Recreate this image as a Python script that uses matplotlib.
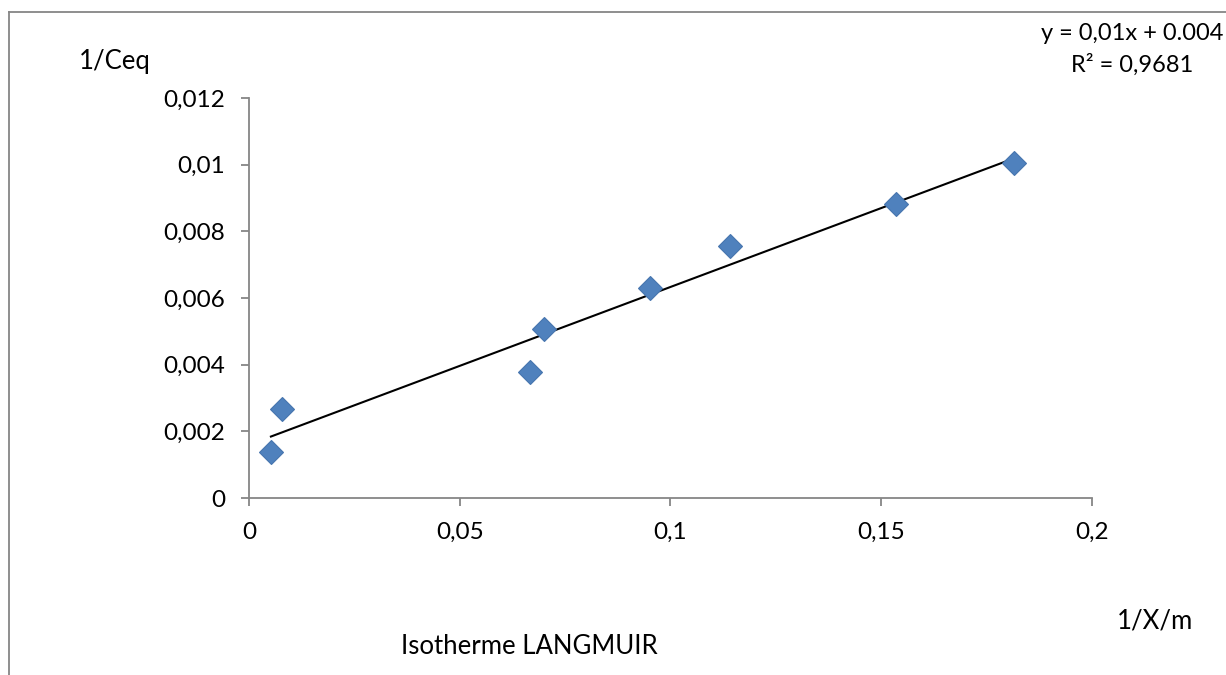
import numpy as np
import matplotlib
matplotlib.use("Agg")
import matplotlib.pyplot as plt
from matplotlib.ticker import FuncFormatter
from matplotlib.lines import Line2D

# Langmuir isotherm points: 1/X/m against 1/Ceq
inv_xm = [0.0052, 0.0078, 0.0667, 0.0700, 0.0951, 0.1141, 0.1535, 0.1815]
inv_ceq = [0.00138, 0.00267, 0.00378, 0.00507, 0.00630, 0.00756, 0.00882, 0.01005]

x_ticks = [0, 0.05, 0.1, 0.15, 0.2]
y_ticks = [0, 0.002, 0.004, 0.006, 0.008, 0.01, 0.012]

eq_line1 = "y = 0,01x + 0.004"
eq_line2 = "R² = 0,9681"

plt.rcParams['font.family'] = ['Lato', 'DejaVu Sans']

fig = plt.figure(figsize=(12.26, 6.75), dpi=100)
ax = fig.add_axes([0.2031, 0.2622, 0.6876, 0.5926])

ax.plot(inv_xm, inv_ceq, linestyle='none', marker='D', markersize=12,
        color='#4F81BD', markeredgecolor='#4675AE', markeredgewidth=0.8, zorder=3)

# linear trendline over the data range
slope, intercept = np.polyfit(inv_xm, inv_ceq, 1)
xs = np.array([min(inv_xm), max(inv_xm)])
ax.plot(xs, slope * xs + intercept, color='black', linewidth=1.5, zorder=2)

ax.set_xlim(0, 0.2)
ax.set_ylim(0, 0.012)
ax.set_xticks(x_ticks)
ax.set_yticks(y_ticks)
comma = FuncFormatter(lambda v, p: f"{v:g}".replace('.', ','))
ax.xaxis.set_major_formatter(comma)
ax.yaxis.set_major_formatter(comma)

for s in ['top', 'right']:
    ax.spines[s].set_visible(False)
for s in ['left', 'bottom']:
    ax.spines[s].set_color('#868686')
    ax.spines[s].set_linewidth(1.3)
ax.tick_params(direction='out', length=6, width=1.3, color='#868686',
               labelsize=17.5, labelcolor='black')
ax.tick_params(axis='x', pad=11)
ax.tick_params(axis='y', pad=11)

fig.text(115 / 1226, 1 - 62 / 675, "1/Ceq", fontsize=18.5, ha='center', va='center')
fig.text(1155 / 1226, 1 - 621 / 675, "1/X/m", fontsize=18.5, ha='center', va='center')
fig.text(529 / 1226, 1 - 647 / 675, "Isotherme LANGMUIR", fontsize=18.5,
         ha='center', va='center')
fig.text(1132 / 1226, 1 - 33 / 675, eq_line1, fontsize=17, ha='center', va='center')
fig.text(1132 / 1226, 1 - 65 / 675, eq_line2, fontsize=17, ha='center', va='center')

# outer chart frame (cropped on the right and bottom)
fig.add_artist(Line2D([9 / 1226, 1.0], [1 - 12 / 675, 1 - 12 / 675],
                      transform=fig.transFigure, color='#868686', linewidth=1.3))
fig.add_artist(Line2D([9 / 1226, 9 / 1226], [0.0, 1 - 12 / 675],
                      transform=fig.transFigure, color='#868686', linewidth=1.3))

fig.savefig('out.png', dpi=100, facecolor='white')
